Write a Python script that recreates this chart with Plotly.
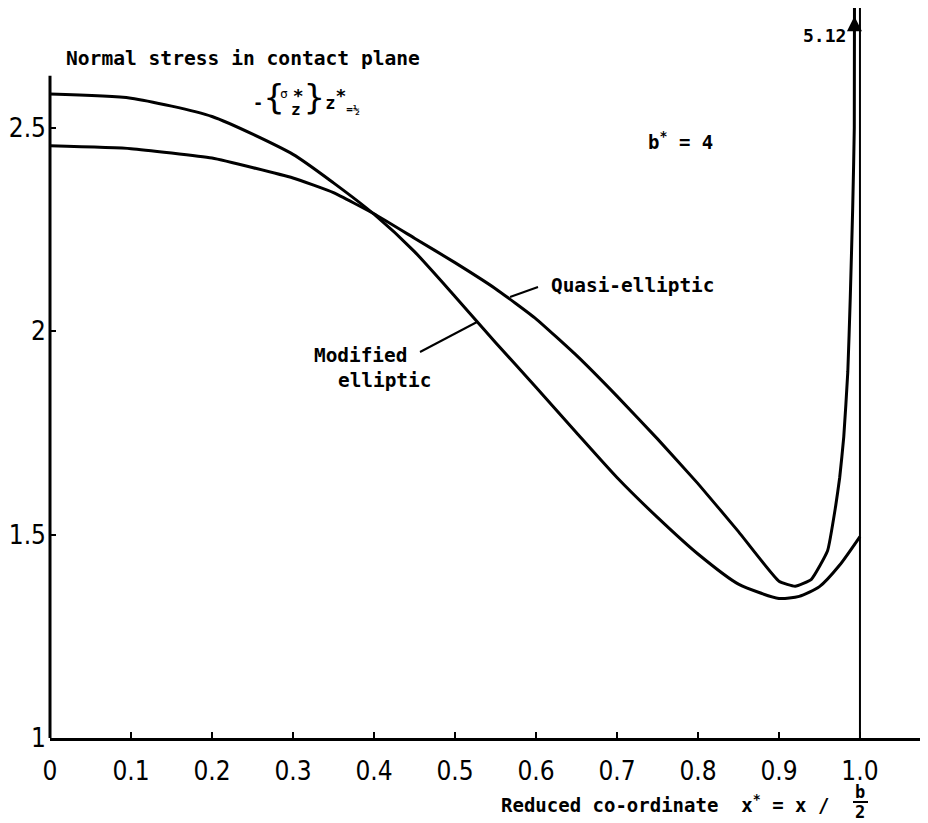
import plotly.graph_objects as go

# ---- data ----
mod_x = [0, 0.1, 0.2, 0.3, 0.35, 0.4, 0.45, 0.5, 0.55, 0.6, 0.65, 0.7, 0.75, 0.8, 0.85, 0.9, 0.925, 0.95, 0.975, 1.0]
mod_y = [2.582, 2.572, 2.527, 2.434, 2.364, 2.287, 2.195, 2.085, 1.972, 1.862, 1.75, 1.64, 1.542, 1.452, 1.378, 1.343, 1.348, 1.372, 1.425, 1.495]

quasi_x = [0, 0.1, 0.2, 0.3, 0.35, 0.4, 0.45, 0.5, 0.55, 0.6, 0.65, 0.7, 0.75, 0.8, 0.85, 0.9, 0.92, 0.94, 0.96, 0.97, 0.975, 0.98, 0.985, 0.988, 0.991, 0.993, 0.995]
quasi_y = [2.455, 2.448, 2.425, 2.376, 2.34, 2.288, 2.228, 2.168, 2.104, 2.03, 1.94, 1.84, 1.735, 1.625, 1.507, 1.385, 1.373, 1.39, 1.46, 1.57, 1.64, 1.74, 1.90, 2.08, 2.30, 2.50, 5.12]

x_ticks = [0, 0.1, 0.2, 0.3, 0.4, 0.5, 0.6, 0.7, 0.8, 0.9, 1.0]
x_tick_labels = ["0", "0.1", "0.2", "0.3", "0.4", "0.5", "0.6", "0.7", "0.8", "0.9", "1.0"]
y_ticks = [1, 1.5, 2, 2.5]
y_tick_labels = ["1", "1.5", "2", "2.5"]

peak_value = 5.12
x_max = 1.084
y_min, y_max = 1.0, 2.7936
y_axis_top = 2.627

# page body has an 8px default margin: figure is drawn 8px in from the window corner
OFF = 8
W, H = 928 - OFF, 823 - OFF
L, R, T, B = 42, 0, 0, 85
PW, PH = W - L - R, H - T - B


def P(px, py):
    """window pixel -> paper coordinates (for text placement only)"""
    return (px - OFF - L) / PW, (H - B - (py - OFF)) / PH


MONO = "DejaVu Sans Mono"
NARROW = "Liberation Sans Narrow, DejaVu Sans Condensed, Arial Narrow, sans-serif"

fig = go.Figure()
fig.add_trace(go.Scatter(x=mod_x, y=mod_y, mode="lines", name="Modified elliptic",
                         line=dict(color="black", width=3, shape="spline", smoothing=0.6)))
fig.add_trace(go.Scatter(x=quasi_x, y=quasi_y, mode="lines", name="Quasi-elliptic",
                         line=dict(color="black", width=3, shape="spline", smoothing=0.4)))

shapes = []
# left axis line (only up to ~2.63)
shapes.append(dict(type="line", xref="paper", yref="paper", x0=0, x1=0, y0=0,
                   y1=(y_axis_top - y_min) / (y_max - y_min), line=dict(color="black", width=3)))
# vertical line at x* = 1.0
shapes.append(dict(type="line", xref="x", yref="paper", x0=1.0, x1=1.0, y0=0, y1=1,
                   line=dict(color="black", width=2)))
# leader lines
for (a, b), (c, d) in [((420, 352), (477, 322)), ((510, 297), (538, 287))]:
    x0, y0 = P(a, b)
    x1, y1 = P(c, d)
    shapes.append(dict(type="line", xref="paper", yref="paper", x0=x0, y0=y0, x1=x1, y1=y1,
                       line=dict(color="black", width=2)))
# fraction bar in axis label
fx0, fy = P(853, 802)
fx1, _ = P(868, 802)
shapes.append(dict(type="line", xref="paper", yref="paper", x0=fx0, x1=fx1, y0=fy, y1=fy,
                   line=dict(color="black", width=2)))

annotations = []


def txt(s, px, py, size=19, xanchor="left", family=MONO, bold=True):
    x, y = P(px, py)
    annotations.append(dict(text=(f"<b>{s}</b>" if bold else s), x=x, y=y, xref="paper", yref="paper",
                            xanchor=xanchor, yanchor="middle", showarrow=False,
                            font=dict(family=family, size=size, color="black")))


txt("Normal stress in contact plane", 64, 58, size=19.6)
# formula  -{σ*_z}_{z*=½}
BR = '<span style="font-family:DejaVu Sans;font-weight:normal;font-size:34px">'
formula = ('-' + BR + '{</span>'
           '<span style="font-size:13px"> </span>'
           '<sup><span style="font-size:18px">*</span></sup>'
           + BR + '}</span>'
           'z<sup><span style="font-size:18px">*</span></sup>'
           '<sub><span style="font-size:11px">=½</span></sub>')
txt(formula, 251, 97, size=17)
txt("σ", 284, 94, size=13, xanchor="center", bold=False)
txt("z", 296, 110, size=16, xanchor="center")

txt("b<sup>*</sup> = 4", 646, 141, size=19)
txt(f"{peak_value:.2f}", 848, 35, size=18, xanchor="right")
txt("Quasi-elliptic", 549, 285, size=19.4)
txt("Modified", 312, 355, size=19.4)
txt("elliptic", 336, 380, size=19.4)
txt("Reduced co-ordinate  x<sup>*</sup> = x /", 499, 804)
txt("b", 860, 792, size=17, xanchor="center")
txt("2", 860, 812, size=17, xanchor="center")

# arrow at the top of the quasi-elliptic peak
annotations.append(dict(text=" ", x=0.9932, y=y_max - 0.02, xref="x", yref="y",
                        showarrow=True, ax=0, ay=16, arrowhead=2, arrowsize=1,
                        arrowwidth=3, arrowcolor="black", font=dict(size=1)))

fig.update_layout(
    width=W, height=H,
    margin=dict(l=L, r=R, t=T, b=B, autoexpand=False),
    paper_bgcolor="white", plot_bgcolor="white",
    showlegend=False,
    shapes=shapes, annotations=annotations,
    xaxis=dict(range=[0, x_max], tickvals=x_ticks, ticktext=x_tick_labels,
               ticks="inside", ticklen=6, tickwidth=2, tickcolor="black",
               showline=True, linewidth=3, linecolor="black", automargin=False,
               showgrid=False, zeroline=False, ticklabelstandoff=8,
               tickfont=dict(family=NARROW, size=26, color="black")),
    yaxis=dict(range=[y_min, y_max], tickvals=y_ticks, ticktext=y_tick_labels,
               ticks="inside", ticklen=6, tickwidth=2, tickcolor="black", automargin=False,
               showline=False, showgrid=False, zeroline=False, ticklabelstandoff=3,
               tickfont=dict(family=NARROW, size=26, color="black")),
)

fig.write_html("out.html")
